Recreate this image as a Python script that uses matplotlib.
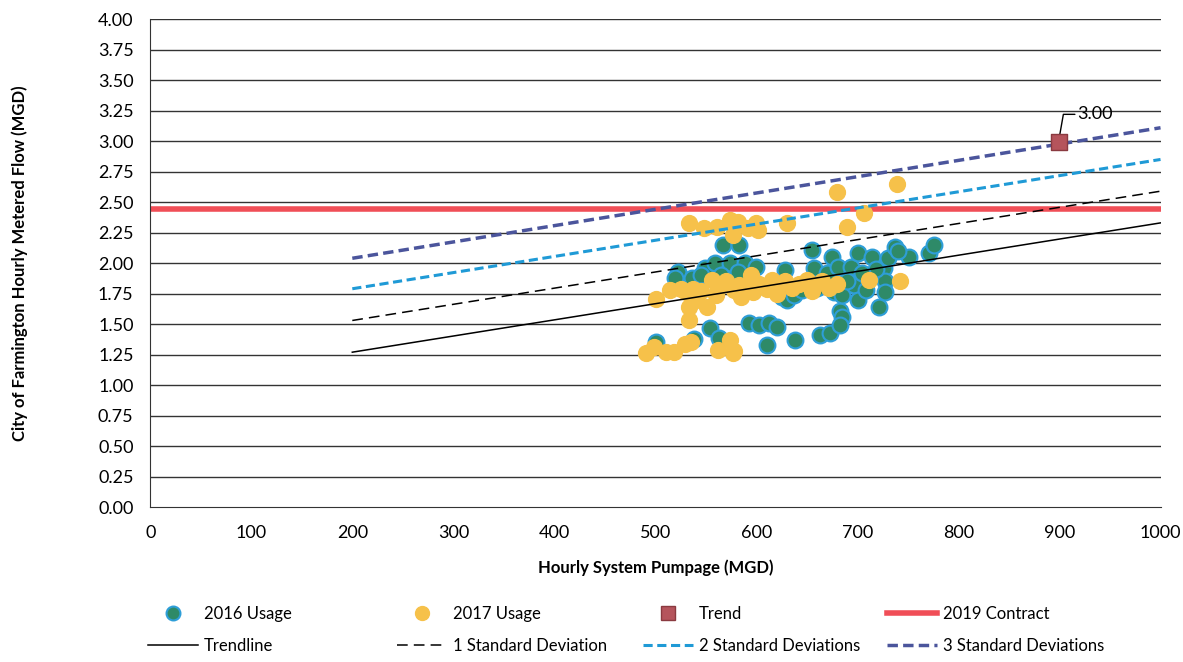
import matplotlib.pyplot as plt
from matplotlib.lines import Line2D

# 2016 usage points (Hourly System Pumpage, Metered Flow)
x_2016 = [501, 538, 554, 563, 567, 583, 522, 519, 536, 549, 559, 574, 589, 600, 565,
          582, 545, 593, 603, 612, 620, 610, 625, 630, 637, 638, 628, 645, 655, 657,
          663, 670, 673, 675, 677, 681, 683, 685, 683, 685, 694, 697, 701, 701, 708,
          714, 721, 726, 727, 727, 730, 737, 751, 771, 776, 740, 690, 660, 718, 705]
y_2016 = [1.35, 1.38, 1.47, 1.39, 2.15, 2.15, 1.93, 1.88, 1.88, 1.96, 2.00, 2.00, 2.00, 1.97, 1.90,
          1.93, 1.90, 1.51, 1.49, 1.51, 1.48, 1.33, 1.72, 1.70, 1.74, 1.37, 1.94, 1.78, 2.11, 1.96,
          1.41, 1.92, 1.43, 2.05, 1.76, 1.97, 1.61, 1.56, 1.49, 1.74, 1.97, 1.82, 2.08, 1.70, 1.78,
          2.05, 1.64, 1.96, 1.85, 1.76, 2.04, 2.13, 2.05, 2.08, 2.15, 2.10, 1.85, 1.80, 1.95, 1.92]

# 2017 usage points
x_2017 = [533, 548, 561, 574, 582, 592, 600, 602, 577, 630, 680, 690, 706, 739, 501,
          514, 525, 537, 530, 545, 556, 562, 570, 578, 583, 590, 597, 603, 610, 615,
          622, 628, 635, 642, 650, 658, 665, 672, 680, 711, 742, 533, 551, 533, 529,
          535, 562, 574, 578, 577, 491, 499, 511, 518, 560, 585, 540, 595, 620, 655]
y_2017 = [2.33, 2.29, 2.30, 2.35, 2.34, 2.29, 2.33, 2.27, 2.23, 2.33, 2.58, 2.30, 2.41, 2.65, 1.71,
          1.78, 1.79, 1.79, 1.76, 1.77, 1.86, 1.80, 1.85, 1.78, 1.82, 1.80, 1.76, 1.83, 1.79, 1.86,
          1.82, 1.85, 1.80, 1.83, 1.86, 1.82, 1.85, 1.80, 1.83, 1.86, 1.85, 1.64, 1.64, 1.53, 1.34,
          1.35, 1.29, 1.37, 1.28, 1.26, 1.26, 1.31, 1.27, 1.27, 1.74, 1.72, 1.70, 1.90, 1.75, 1.77]

# trend point and reference lines
trend_x = [900]
trend_y = [2.99]
line_x = [200, 1000]
trendline_y = [1.27, 2.33]
sd1_y = [1.53, 2.59]
sd2_y = [1.79, 2.85]
sd3_y = [2.04, 3.11]
contract_y = 2.44

plt.rcParams["font.family"] = ["Lato", "DejaVu Sans"]

fig = plt.figure(figsize=(11.83, 6.62), dpi=100)
ax = fig.add_axes([0.127, 0.234, 0.854, 0.737])

for v in [i * 0.25 for i in range(1, 17)]:
    ax.axhline(v, color="#333333", lw=1.0, zorder=1)

ax.axhline(contract_y, color="#f04e57", lw=4, zorder=2)
ax.plot(line_x, trendline_y, color="black", lw=1.1, zorder=4)
ax.plot(line_x, sd1_y, color="black", lw=1.1, dashes=(7, 4), zorder=4)
ax.plot(line_x, sd2_y, color="#1f9ad6", lw=2.2, dashes=(3, 1.5), zorder=4)
ax.plot(line_x, sd3_y, color="#4b559c", lw=2.5, dashes=(3, 1.5), zorder=4)

ax.scatter(x_2016, y_2016, s=130, color="#2e8a68", edgecolors="#2e9ed8", linewidths=1.5, zorder=3)
ax.scatter(x_2017, y_2017, s=130, color="#f6c14a", edgecolors="#f6c14a", linewidths=1.0, zorder=3)
ax.scatter(trend_x, trend_y, marker="s", s=130, color="#b5545c", edgecolors="#8a3a40", linewidths=1, zorder=5)

ax.annotate("3.00", xy=(trend_x[0], trend_y[0] + 0.05), xytext=(918, 3.22),
            fontsize=13, va="center", ha="left",
            arrowprops=dict(arrowstyle="-", color="black", lw=1,
                            connectionstyle="angle,angleA=0,angleB=80,rad=0",
                            shrinkA=0, shrinkB=0))

ax.set_xlim(0, 1000)
ax.set_ylim(0, 4.0)
ax.set_xticks(range(0, 1001, 100))
ax.set_yticks([i * 0.25 for i in range(17)])
ax.set_yticklabels([f"{i * 0.25:.2f}" for i in range(17)])
ax.tick_params(axis="both", length=0, labelsize=13)
ax.tick_params(axis="y", pad=12)
ax.tick_params(axis="x", pad=13)
for s in ["top", "right"]:
    ax.spines[s].set_visible(False)
ax.spines["left"].set_color("#333333")
ax.spines["bottom"].set_color("#333333")

ax.set_xlabel("Hourly System Pumpage (MGD)", fontsize=12, fontweight="bold", labelpad=13)
ax.set_ylabel("City of Farmington Hourly Metered Flow (MGD)", fontsize=12, fontweight="bold", labelpad=50)

# legend: four columns of two entries, placed like the original
columns = [
    ([Line2D([], [], ls="none", marker="o", ms=10, mfc="#2e8a68", mec="#2e9ed8", mew=1.5),
      Line2D([], [], color="black", lw=1.1)],
     ["2016 Usage", "Trendline"], 148),
    ([Line2D([], [], ls="none", marker="o", ms=10, mfc="#f6c14a", mec="#f6c14a"),
      Line2D([], [], color="black", lw=1.1, dashes=(7, 4))],
     ["2017 Usage", "1 Standard Deviation"], 397),
    ([Line2D([], [], ls="none", marker="s", ms=10, mfc="#b5545c", mec="#8a3a40"),
      Line2D([], [], color="#1f9ad6", lw=2.2, dashes=(3, 1.5))],
     ["Trend", "2 Standard Deviations"], 643),
    ([Line2D([], [], color="#f04e57", lw=4),
      Line2D([], [], color="#4b559c", lw=2.5, dashes=(3, 1.5))],
     ["2019 Contract", "3 Standard Deviations"], 887),
]
for hs, ls, px in columns:
    fig.legend(hs, ls, loc="center left", bbox_to_anchor=(px / 1183, 1 - 630 / 662),
               frameon=False, fontsize=12, handlelength=3.0, handletextpad=0.35,
               labelspacing=0.95, borderpad=0, borderaxespad=0)

fig.savefig("out.png", dpi=100)
